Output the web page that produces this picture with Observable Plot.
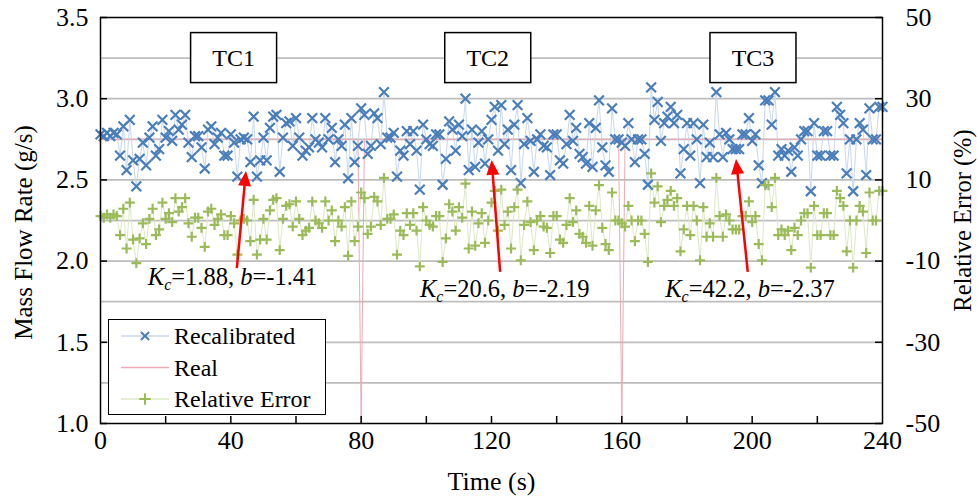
<!DOCTYPE html>
<html><head><meta charset="utf-8">
<script src="https://cdn.jsdelivr.net/npm/d3@7"></script>
<script src="https://cdn.jsdelivr.net/npm/@observablehq/plot@0.6"></script>
<style>
html,body{margin:0;padding:0;background:#fff;}
#wrap{position:relative;width:977px;height:497px;font-family:"Liberation Serif","Times New Roman",serif;}
#legend{position:absolute;left:108px;top:319px;width:216px;height:94px;border:1.5px solid #000;background:#fff;}
</style></head><body><div id="wrap"></div>
<script>
// ---- data ----
const time = d3.range(0, 241); // sample times, 1 s apart
const recalibrated = [
2.78,2.77,2.79,2.77,2.79,2.78,2.65,2.83,2.56,2.87,2.62,2.46,2.63,2.73,2.59,2.76,2.83,2.65,2.69,2.87,2.76,2.80,2.74,2.90,2.81,2.84,2.90,2.73,2.64,2.77,
2.77,2.70,2.57,2.81,2.83,2.72,2.76,2.79,2.65,2.65,2.78,2.73,2.52,2.75,2.76,2.75,2.61,2.89,2.52,2.62,2.76,2.62,2.82,2.89,2.90,2.55,2.76,2.85,2.86,2.71,
2.88,2.76,2.65,2.68,2.70,2.88,2.75,2.73,2.70,2.88,2.75,2.82,2.61,2.75,2.71,2.84,2.51,2.88,2.61,2.71,2.94,2.90,2.66,2.71,2.91,2.88,2.72,3.04,2.76,2.76,
2.79,2.52,2.68,2.65,2.80,2.72,2.80,2.68,2.44,2.84,2.75,2.72,2.71,2.78,2.78,2.47,2.63,2.86,2.81,2.68,2.84,2.77,3.00,2.56,2.81,2.58,2.73,2.80,2.60,2.75,
2.87,2.95,2.68,2.96,2.72,2.81,2.56,2.84,2.96,2.48,2.72,2.88,2.74,2.55,2.75,2.78,2.71,2.70,2.53,2.78,2.78,2.62,2.60,2.72,2.90,2.74,2.82,2.66,2.64,2.60,
2.85,2.58,2.82,2.99,2.70,2.59,2.55,2.94,2.75,2.75,2.73,2.71,2.85,2.75,2.61,2.75,2.75,2.66,2.47,3.07,2.87,2.98,2.74,2.85,2.89,2.95,2.85,2.90,2.54,2.69,
2.85,2.65,2.85,2.75,2.48,2.84,2.64,2.73,2.64,3.04,2.78,2.64,2.79,2.75,2.69,2.69,2.69,2.78,2.78,2.88,2.74,2.78,2.59,2.48,2.99,2.99,2.84,3.04,2.65,2.69,
2.65,2.68,2.55,2.70,2.65,2.75,2.80,2.80,2.43,2.85,2.65,2.65,2.80,2.80,2.65,2.65,2.95,2.90,2.85,2.54,2.75,2.43,2.75,2.85,2.81,2.53,2.94,2.75,2.75,2.95,2.95];
const relativeError = [
1.1,0.7,1.5,0.7,1.5,1.1,-3.6,2.9,-6.9,4.4,-4.7,-10.5,-4.4,-0.7,-5.8,0.4,2.9,-3.6,-2.2,4.4,0.4,1.8,-0.4,5.5,2.2,3.3,5.5,-0.7,-4.0,0.7,
0.7,-1.8,-6.5,2.2,2.9,-1.1,0.4,1.5,-3.6,-3.6,1.1,-0.7,-8.4,0.0,0.4,0.0,-5.1,5.1,-8.4,-4.7,0.4,-4.7,2.5,5.1,5.5,-7.3,0.4,3.6,4.0,-1.5,
4.7,0.4,-3.6,-2.5,-1.8,4.7,0.0,-0.7,-1.8,4.7,0.0,2.5,-5.1,0.0,-1.5,3.3,-8.7,4.7,-5.1,-1.5,6.9,5.5,-3.3,-1.5,5.8,4.7,-1.1,10.5,0.4,0.4,
1.5,-8.4,-2.5,-3.6,1.8,-1.1,1.8,-2.5,-11.3,3.3,0.0,-1.1,-1.5,1.1,1.1,-10.2,-4.4,4.0,2.2,-2.5,3.3,0.7,9.1,-6.9,2.2,-6.2,-0.7,1.8,-5.5,0.0,
4.4,7.3,-2.5,7.6,-1.1,2.2,-6.9,3.3,7.6,-9.8,-1.1,4.7,-0.4,-7.3,0.0,1.1,-1.5,-1.8,-8.0,1.1,1.1,-4.7,-5.5,-1.1,5.5,-0.4,2.5,-3.3,-4.0,-5.5,
3.6,-6.2,2.5,8.7,-1.8,-5.8,-7.3,6.9,0.0,0.0,-0.7,-1.5,3.6,0.0,-5.1,0.0,0.0,-3.3,-10.2,11.6,4.4,8.4,-0.4,3.6,5.1,7.3,3.6,5.5,-7.6,-2.2,
3.6,-3.6,3.6,0.0,-9.8,3.3,-4.0,-0.7,-4.0,10.5,1.1,-4.0,1.5,0.0,-2.2,-2.2,-2.2,1.1,1.1,4.7,-0.4,1.1,-5.8,-9.8,8.7,8.7,3.3,10.5,-3.6,-2.2,
-3.6,-2.5,-7.3,-1.8,-3.6,0.0,1.8,1.8,-11.6,3.6,-3.6,-3.6,1.8,1.8,-3.6,-3.6,7.3,5.5,3.6,-7.6,0.0,-11.6,0.0,3.6,2.2,-8.0,6.9,0.0,0.0,7.3,7.3];
const realTime  = [0, 79, 80, 81, 159, 160, 161, 240];
const realValue = [2.75, 2.75, 1.0, 2.75, 2.75, 1.0, 2.75, 2.75];

const leftTicks = [1.0, 1.5, 2.0, 2.5, 3.0, 3.5];
const gridValues = [1.25, 1.5, 1.75, 2.0, 2.25, 2.5, 2.75, 3.0, 3.25];
const xLabelTicks = [0, 40, 80, 120, 160, 200, 240];
const xTickMarks = [20, 40, 60, 80, 100, 120, 140, 160, 180, 200, 220];
const errDomain = [-50, 50];
const yDomain = [1.0, 3.5];

const tcLabels = ["TC1", "TC2", "TC3"];
const tcTime = [41, 119, 200.4];
const tcLevel = [3.25, 3.25, 3.25];

const annoTime = [40.7, 124.2, 199.5];
const annoLevel = [1.85, 1.776, 1.776];
const annoKc = ["1.88", "20.6", "42.2"];
const annoB = ["-1.41", "-2.19", "-2.37"];

const arrowFromTime = [42.0, 122.8, 198.8];
const arrowFromLevel = [1.954, 1.93, 1.93];
const arrowToTime = [44.8, 120.2, 195.2];
const arrowToLevel = [2.552, 2.62, 2.625];

// ---- layout ----
const W = 977, H = 497, mL = 100, mR = 95, mT = 17, mB = 74;
const plotW = W - mL - mR, plotH = H - mT - mB;
const FONT = "Liberation Serif, Times New Roman, serif";
const TICK_FS = 26;

// map relative error (%) onto left-axis units (secondary axis)
const errToLeft = e => yDomain[0] + (e - errDomain[0]) / (errDomain[1] - errDomain[0]) * (yDomain[1] - yDomain[0]);
const leftToErr = v => errDomain[0] + (v - yDomain[0]) / (yDomain[1] - yDomain[0]) * (errDomain[1] - errDomain[0]);

const recData = time.map((t, i) => ({t, v: recalibrated[i]}));
const errData = time.map((t, i) => ({t, v: errToLeft(relativeError[i])}));
const realData = realTime.map((t, i) => ({t, v: realValue[i]}));

const BLUE = "#4a7ebb", GREEN = "#9bbb59";
const BLUE_LINE = "#c8d8ee", GREEN_LINE = "#dce8c6", PINK = "#eeaab6";

function tcBoxes(index, scales) {
  const g = d3.create("svg:g");
  tcLabels.forEach((lab, i) => {
    const cx = scales.x(tcTime[i]), cy = scales.y(tcLevel[i]);
    g.append("rect").attr("x", cx - 43).attr("y", cy - 25).attr("width", 86).attr("height", 50)
      .attr("fill", "white").attr("stroke", "black").attr("stroke-width", 1.5);
    g.append("text").attr("x", cx).attr("y", cy).attr("text-anchor", "middle")
      .attr("dominant-baseline", "central").attr("font-size", 24).attr("font-family", FONT)
      .attr("fill", "black").text(lab);
  });
  return g.node();
}

function annotations(index, scales) {
  const g = d3.create("svg:g");
  annoKc.forEach((kc, i) => {
    const t = g.append("text").attr("x", scales.x(annoTime[i])).attr("y", scales.y(annoLevel[i]))
      .attr("text-anchor", "middle").attr("font-size", 24.5).attr("font-family", FONT).attr("fill", "black");
    t.append("tspan").attr("font-style", "italic").text("K");
    t.append("tspan").attr("font-style", "italic").attr("font-size", 16).attr("dy", 5).text("c");
    t.append("tspan").attr("dy", -5).text("=" + kc + ", ");
    t.append("tspan").attr("font-style", "italic").text("b");
    t.append("tspan").text("=" + annoB[i]);
  });
  return g.node();
}

function arrows(index, scales) {
  const g = d3.create("svg:g");
  arrowFromTime.forEach((_, i) => {
    const x1 = scales.x(arrowFromTime[i]), y1 = scales.y(arrowFromLevel[i]);
    const x2 = scales.x(arrowToTime[i]), y2 = scales.y(arrowToLevel[i]);
    const dx = x2 - x1, dy = y2 - y1, L = Math.hypot(dx, dy), ux = dx / L, uy = dy / L;
    const hl = 15, hw = 6.5;
    const bx = x2 - ux * hl, by = y2 - uy * hl;
    g.append("line").attr("x1", x1).attr("y1", y1).attr("x2", bx + ux * 2).attr("y2", by + uy * 2)
      .attr("stroke", "#ff0000").attr("stroke-width", 2.5);
    g.append("polygon").attr("points", [[x2, y2], [bx - uy * hw, by + ux * hw], [bx + uy * hw, by - ux * hw]].map(p => p.join(",")).join(" "))
      .attr("fill", "#ff0000");
  });
  return g.node();
}

const chart = Plot.plot({
  width: W, height: H,
  marginLeft: mL, marginRight: mR, marginTop: mT, marginBottom: mB,
  style: {fontFamily: FONT, fontSize: "24px", background: "white", color: "black"},
  x: {domain: [0, 240]},
  y: {domain: yDomain},
  marks: [
    Plot.ruleY(gridValues, {stroke: "#bdbdbd", strokeWidth: 1.75}),
    Plot.line(recData, {x: "t", y: "v", stroke: BLUE_LINE, strokeWidth: 1}),
    Plot.line(realData, {x: "t", y: "v", stroke: PINK, strokeWidth: 1}),
    Plot.line(errData, {x: "t", y: "v", stroke: GREEN_LINE, strokeWidth: 1}),
    Plot.dot(recData, {x: "t", y: "v", symbol: "times", r: 4.5, stroke: BLUE, strokeWidth: 2.2}),
    Plot.dot(errData, {x: "t", y: "v", symbol: "plus", r: 3.3, stroke: GREEN, strokeWidth: 2.2}),
    Plot.frame({stroke: "black", strokeWidth: 1.5}),
    Plot.tickY(leftTicks, {y: d => d, insetRight: plotW - 7, stroke: "black", strokeWidth: 1.5}),
    Plot.tickY(leftTicks, {y: d => d, insetLeft: plotW - 7, stroke: "black", strokeWidth: 1.5}),
    Plot.tickX(xTickMarks, {x: d => d, insetTop: plotH - 7, stroke: "black", strokeWidth: 1.5}),
    Plot.axisY(leftTicks, {anchor: "left", tickSize: 0, tickPadding: 12, fontSize: TICK_FS, label: null, tickFormat: d => d.toFixed(1)}),
    Plot.axisY(leftTicks, {anchor: "right", tickSize: 0, tickPadding: 23, fontSize: TICK_FS, label: null, tickFormat: d => String(Math.round(leftToErr(d)))}),
    Plot.axisX(xLabelTicks, {anchor: "bottom", tickSize: 0, tickPadding: 7, fontSize: TICK_FS, label: null}),
    Plot.text(["Time (s)"], {frameAnchor: "bottom", dy: 58, textAnchor: "middle", lineAnchor: "middle", fontSize: 26, fill: "black"}),
    Plot.text(["Mass Flow Rate (g/s)"], {frameAnchor: "left", dx: -77, dy: 12, rotate: -90, textAnchor: "middle", lineAnchor: "middle", fontSize: 25, fill: "black", letterSpacing: "2.6px"}),
    Plot.text(["Relative Error (%)"], {frameAnchor: "right", dx: 81, rotate: -90, textAnchor: "middle", lineAnchor: "middle", fontSize: 24.5, fill: "black"}),
    tcBoxes,
    arrows,
    annotations
  ]
});
const wrap = document.getElementById("wrap");
wrap.appendChild(chart);

// ---- legend (inside plot area, lower left) ----
const legendItems = [
  {label: "Recalibrated", line: BLUE_LINE, symbol: d3.symbolTimes, color: BLUE},
  {label: "Real", line: PINK, symbol: null, color: null},
  {label: "Relative Error", line: GREEN_LINE, symbol: d3.symbolPlus, color: GREEN}
];
const leg = document.createElement("div");
leg.id = "legend";
wrap.appendChild(leg);
const ls = d3.select(leg).append("svg").attr("width", 216).attr("height", 94);
legendItems.forEach((it, i) => {
  const cy = 16 + i * 31.5;
  ls.append("line").attr("x1", 12).attr("x2", 60).attr("y1", cy).attr("y2", cy).attr("stroke", it.line).attr("stroke-width", 1.5);
  if (it.symbol) {
    ls.append("path").attr("transform", `translate(36,${cy})`)
      .attr("d", d3.symbol(it.symbol, 45)()).attr("fill", "none").attr("stroke", it.color).attr("stroke-width", 2);
  }
  ls.append("text").attr("x", 65).attr("y", cy).attr("dominant-baseline", "central")
    .attr("font-size", 24).attr("font-family", FONT).attr("fill", "black").text(it.label);
});
</script></body></html>
